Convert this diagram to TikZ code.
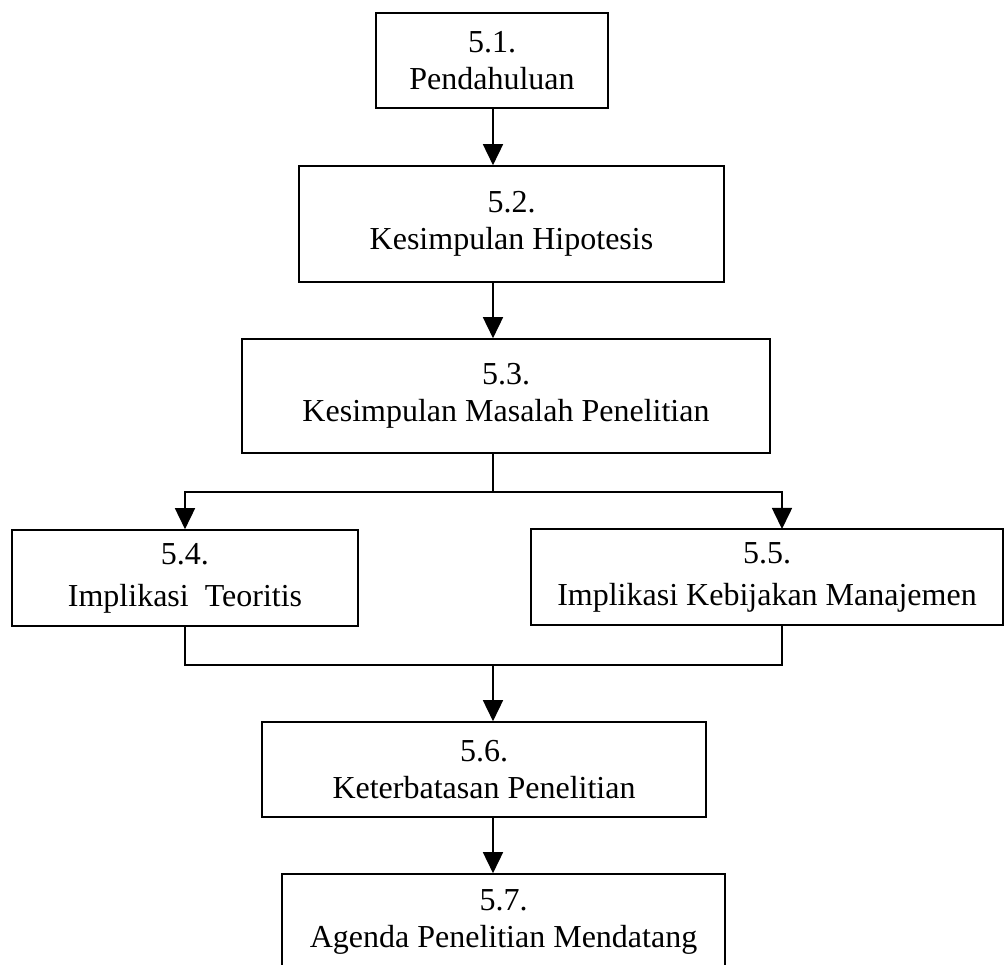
\documentclass[tikz,border=0pt]{standalone}
\usepackage{fontspec}
\setmainfont{Liberation Serif}
\usetikzlibrary{arrows.meta}
\begin{document}
\begin{tikzpicture}[x=1pt,y=-1pt,
  box/.style={draw, line width=1.6pt, rectangle, inner sep=0pt, align=center,
    font=\fontsize{32}{37}\selectfont},
  widebox/.style={box, font=\fontsize{32}{42}\selectfont},
  link/.style={line width=1.6pt},
  flow/.style={link, -{Triangle[width=20pt,length=21pt]}}]
\useasboundingbox[fill=white] (0,0) rectangle (1005,965);

% chapter sections
\node[box, minimum width=232pt, minimum height=95pt]  (b1) at (492,60.5)  {5.1.\\Pendahuluan};
\node[box, minimum width=425pt, minimum height=116pt] (b2) at (511.5,224) {5.2.\\Kesimpulan Hipotesis};
\node[box, minimum width=528pt, minimum height=114pt] (b3) at (506,396)   {5.3.\\Kesimpulan Masalah Penelitian};
\node[widebox, minimum width=346pt, minimum height=96pt] (b4) at (185,578) {5.4.\\Implikasi~ Teoritis};
\node[widebox, minimum width=472pt, minimum height=96pt] (b5) at (767,577) {5.5.\\Implikasi Kebijakan Manajemen};
\node[box, minimum width=444pt, minimum height=95pt]  (b6) at (484,769.5) {5.6.\\Keterbatasan Penelitian};
\node[box, minimum width=443pt, minimum height=95pt]  (b7) at (503.5,921.5) {5.7.\\Agenda Penelitian Mendatang};

% junction points of the main flow line
\coordinate (split) at (493,492);
\coordinate (merge) at (493,665);
\coordinate (b5in)  at (782,529);
\coordinate (b5out) at (782,625);

% connectors
\draw[flow] (b1.south -| split) -- (b2.north -| split);
\draw[flow] (b2.south -| split) -- (b3.north -| split);
\draw[link] (b3.south -| split) -- (split);
\draw[flow] (split) -| (b4.north);
\draw[flow] (split) -| (b5in);
\draw[link] (b4.south) |- (merge) -| (b5out);
\draw[flow] (merge) -- (b6.north -| merge);
\draw[flow] (b6.south -| merge) -- (b7.north -| merge);
\end{tikzpicture}
\end{document}
